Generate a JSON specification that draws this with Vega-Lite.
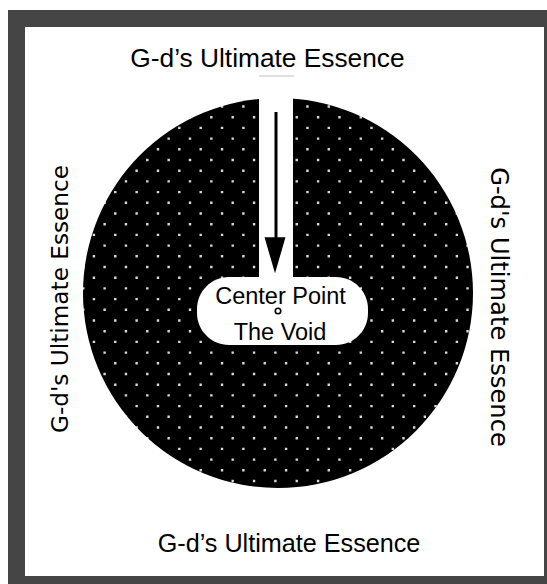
{
  "$schema": "https://vega.github.io/schema/vega-lite/v6.json",
  "width": 547,
  "height": 584,
  "padding": 0,
  "autosize": {"type": "fit", "contains": "padding"},
  "background": "white",
  "config": {"view": {"stroke": null}},
  "datasets": {
    "panels": [
      {"part": "frame", "X": -270, "X2": 269, "Y": -291, "Y2": 283},
      {"part": "inner", "X": -253, "X2": 266, "Y": -283, "Y2": 266}
    ],
    "disc": [{"X": 0, "Y": 0}],
    "channel": [{"X": -19, "X2": 15, "Y": 13, "Y2": 199}],
    "pill": [{"X": -81, "X2": 90, "Y": -52, "Y2": 16}],
    "dots": [
      {"X": -194.75, "Y": 197.2}, {"X": -205.42, "Y": 186.5},
      {"X": -194.75, "Y": 175.8}, {"X": -205.42, "Y": 165.1},
      {"X": -194.75, "Y": 154.4}, {"X": -205.42, "Y": 143.7},
      {"X": -194.75, "Y": 133.0}, {"X": -205.42, "Y": 122.3},
      {"X": -194.75, "Y": 111.6}, {"X": -205.42, "Y": 100.9},
      {"X": -194.75, "Y": 90.2}, {"X": -205.42, "Y": 79.5},
      {"X": -194.75, "Y": 68.8}, {"X": -205.42, "Y": 58.1},
      {"X": -194.75, "Y": 47.4}, {"X": -205.42, "Y": 36.7},
      {"X": -194.75, "Y": 26.0}, {"X": -205.42, "Y": 15.3},
      {"X": -194.75, "Y": 4.6}, {"X": -205.42, "Y": -6.1},
      {"X": -194.75, "Y": -16.8}, {"X": -205.42, "Y": -27.5},
      {"X": -194.75, "Y": -38.2}, {"X": -205.42, "Y": -48.9},
      {"X": -194.75, "Y": -59.6}, {"X": -205.42, "Y": -70.3},
      {"X": -194.75, "Y": -81.0}, {"X": -205.42, "Y": -91.7},
      {"X": -194.75, "Y": -102.4}, {"X": -205.42, "Y": -113.1},
      {"X": -194.75, "Y": -123.8}, {"X": -205.42, "Y": -134.5},
      {"X": -194.75, "Y": -145.2}, {"X": -205.42, "Y": -155.9},
      {"X": -194.75, "Y": -166.6}, {"X": -205.42, "Y": -177.3},
      {"X": -194.75, "Y": -188.0}, {"X": -205.42, "Y": -198.7}
    ],
    "underline": [{"X": -19, "X2": 16, "Y": 217}],
    "shaft": [{"X": -2, "Y": 48, "Y2": 181}],
    "head": [{"X": -3, "Y": 37.7}],
    "centre": [{"X": 0, "Y": -18}],
    "topTitle": [{"label": "G-d\u2019s Ultimate Essence", "X": -10.5, "Y": 226.3}],
    "bottomTitle": [{"label": "G-d\u2019s Ultimate Essence", "X": 11, "Y": -259}],
    "inside": [
      {"label": "Center Point", "X": 2.5, "Y": -11.3},
      {"label": "The Void", "X": 2, "Y": -47}
    ],
    "leftText": [{"label": "G-d's Ultimate Essence", "X": -210.5, "Y": -6}],
    "rightText": [{"label": "G-d's Ultimate Essence", "X": 212.5, "Y": -14}]
  },
  "encoding": {
    "x": {"field": "X", "type": "quantitative", "scale": {"domain": [-278, 269], "nice": false, "zero": false}, "axis": null},
    "y": {"field": "Y", "type": "quantitative", "scale": {"domain": [-291, 293], "nice": false, "zero": false}, "axis": null}
  },
  "layer": [
    {
      "data": {"name": "panels"},
      "mark": {"type": "rect"},
      "encoding": {
        "x2": {"field": "X2"},
        "y2": {"field": "Y2"},
        "color": {"field": "part", "type": "nominal", "scale": {"domain": ["frame", "inner"], "range": ["#454545", "#ffffff"]}, "legend": null}
      }
    },
    {
      "data": {"name": "disc"},
      "mark": {"type": "point", "shape": "circle", "filled": true, "color": "#000000", "opacity": 1, "size": 152100, "strokeWidth": 0}
    },
    {
      "data": {"name": "channel"},
      "mark": {"type": "rect", "color": "#ffffff"},
      "encoding": {"x2": {"field": "X2"}, "y2": {"field": "Y2"}}
    },
    {
      "data": {"name": "pill"},
      "mark": {"type": "rect", "color": "#ffffff", "cornerRadius": 32},
      "encoding": {"x2": {"field": "X2"}, "y2": {"field": "Y2"}}
    },
    {
      "data": {"name": "dots"},
      "mark": {
        "type": "point",
        "shape": "M-1.2,-1.2h2.4v2.4h-2.4zM20.15,-1.2h2.4v2.4h-2.4zM41.5,-1.2h2.4v2.4h-2.4zM62.85,-1.2h2.4v2.4h-2.4zM84.2,-1.2h2.4v2.4h-2.4zM105.55,-1.2h2.4v2.4h-2.4zM126.9,-1.2h2.4v2.4h-2.4zM148.25,-1.2h2.4v2.4h-2.4zM169.6,-1.2h2.4v2.4h-2.4zM190.95,-1.2h2.4v2.4h-2.4zM212.3,-1.2h2.4v2.4h-2.4zM233.65,-1.2h2.4v2.4h-2.4zM255,-1.2h2.4v2.4h-2.4zM276.35,-1.2h2.4v2.4h-2.4zM297.7,-1.2h2.4v2.4h-2.4zM319.05,-1.2h2.4v2.4h-2.4zM340.4,-1.2h2.4v2.4h-2.4zM361.75,-1.2h2.4v2.4h-2.4zM383.1,-1.2h2.4v2.4h-2.4zM404.45,-1.2h2.4v2.4h-2.4z",
        "filled": true,
        "color": "#ffffff",
        "opacity": 0.85,
        "size": 4,
        "strokeWidth": 0
      }
    },
    {
      "data": {"name": "underline"},
      "mark": {"type": "rule", "color": "#c0c0c0", "strokeWidth": 1},
      "encoding": {"x2": {"field": "X2"}}
    },
    {
      "data": {"name": "shaft"},
      "mark": {"type": "rule", "color": "#000000", "strokeWidth": 3},
      "encoding": {"y2": {"field": "Y2"}}
    },
    {
      "data": {"name": "head"},
      "mark": {"type": "point", "shape": "M-0.583,-1L0.583,-1L0,1Z", "filled": true, "color": "#000000", "opacity": 1, "size": 1296, "strokeWidth": 0}
    },
    {
      "data": {"name": "centre"},
      "mark": {"type": "point", "shape": "circle", "filled": true, "fill": "#ffffff", "stroke": "#000000", "strokeWidth": 1.6, "opacity": 1, "size": 30}
    },
    {
      "data": {"name": "topTitle"},
      "mark": {"type": "text", "font": "Liberation Sans", "fontSize": 26.3, "align": "center", "baseline": "alphabetic", "color": "#000000"},
      "encoding": {"text": {"field": "label"}}
    },
    {
      "data": {"name": "bottomTitle"},
      "mark": {"type": "text", "font": "Liberation Sans", "fontSize": 25.2, "align": "center", "baseline": "alphabetic", "color": "#000000"},
      "encoding": {"text": {"field": "label"}}
    },
    {
      "data": {"name": "inside"},
      "mark": {"type": "text", "font": "Liberation Sans", "fontSize": 23.5, "align": "center", "baseline": "alphabetic", "color": "#000000"},
      "encoding": {"text": {"field": "label"}}
    },
    {
      "data": {"name": "leftText"},
      "mark": {"type": "text", "font": "DejaVu Sans", "fontSize": 23.2, "angle": 270, "align": "center", "baseline": "alphabetic", "color": "#000000"},
      "encoding": {"text": {"field": "label"}}
    },
    {
      "data": {"name": "rightText"},
      "mark": {"type": "text", "font": "DejaVu Sans", "fontSize": 24.2, "angle": 90, "align": "center", "baseline": "alphabetic", "color": "#000000"},
      "encoding": {"text": {"field": "label"}}
    }
  ]
}
